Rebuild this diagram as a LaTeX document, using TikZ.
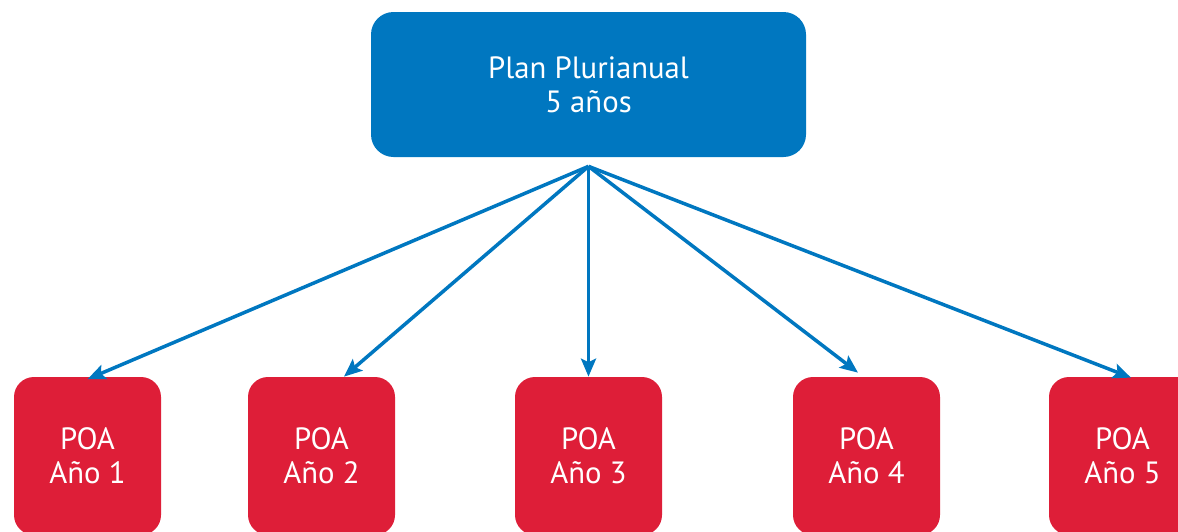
\documentclass[tikz,border=0pt]{standalone}
\usepackage{fontspec}
\setmainfont{PT Sans}
\usetikzlibrary{arrows.meta}
\definecolor{azul}{RGB}{0,119,192}
\definecolor{rojo}{RGB}{222,30,56}
\begin{document}
\begin{tikzpicture}
\fontsize{17.5}{19.5}\selectfont
\tikzset{
  caja/.style={rounded corners=0.45cm, text=white, align=center, inner sep=0pt},
  flecha/.style={draw=azul, line width=2pt, -{Stealth[length=0.36cm,width=0.3cm,inset=0.07cm]}}
}
\useasboundingbox (0,0) rectangle (23.56,-10.62);
\node[caja, fill=azul, minimum width=8.7cm, minimum height=2.9cm] (plan) at (11.77,-1.69) {Plan Plurianual\\5 años};
\coordinate (hub) at ([yshift=-0.18cm]plan.south);
\newcommand\anio[3]{
\node[caja, fill=rojo, rounded corners=0.4cm, minimum width=2.94cm, minimum height=3.16cm] (#1) at (#2,-9.12) {POA\\Año #3};
}
\anio{a1}{1.75}{1}
\anio{a2}{6.43}{2}
\anio{a3}{11.77}{3}
\anio{a4}{17.33}{4}
\anio{a5}{22.45}{5}
\path[flecha] (hub) -- ([yshift=-0.05cm]a1.north);
\path[flecha] (hub) -- ([xshift=0.45cm]a2.north);
\path[flecha] (hub) -- (a3.north);
\path[flecha] (hub) -- ([xshift=-0.17cm,yshift=0.08cm]a4.north);
\path[flecha] (hub) -- ([xshift=0.17cm,yshift=-0.02cm]a5.north);
\end{tikzpicture}
\end{document}
